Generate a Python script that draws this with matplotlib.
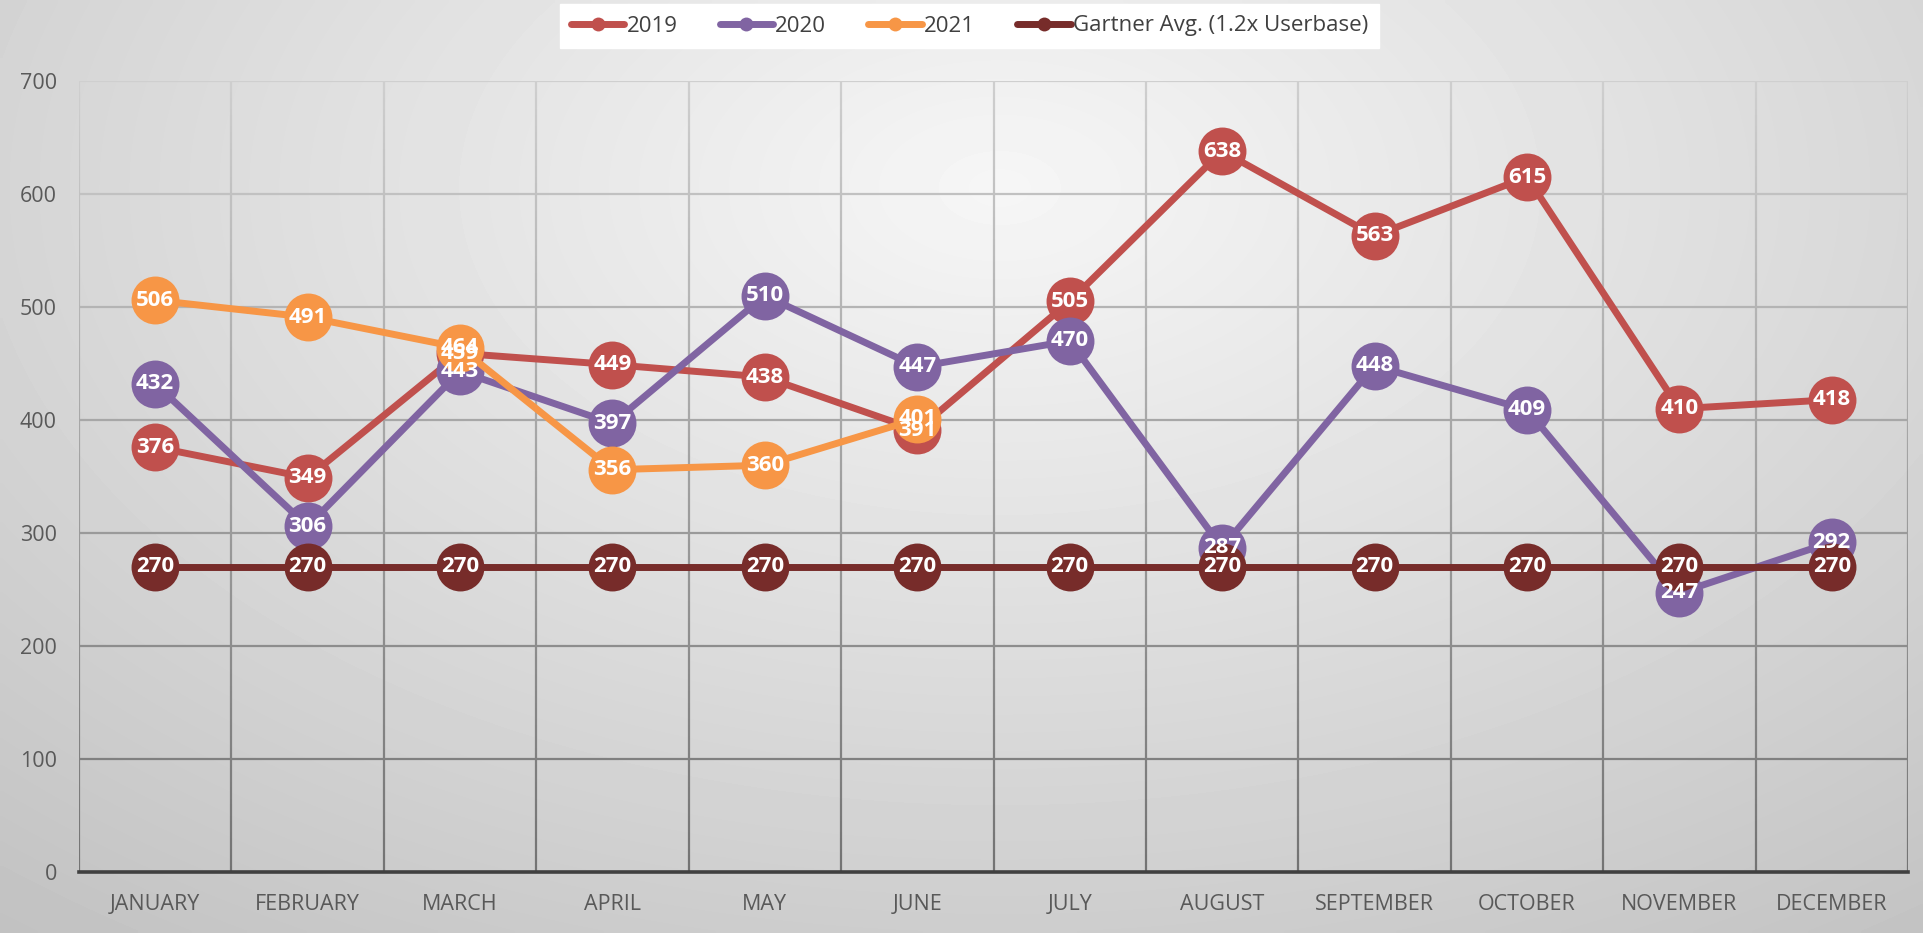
import numpy as np
import matplotlib
matplotlib.use("Agg")
import matplotlib.pyplot as plt
from matplotlib.collections import LineCollection
from matplotlib.lines import Line2D

months = ["JANUARY", "FEBRUARY", "MARCH", "APRIL", "MAY", "JUNE", "JULY",
          "AUGUST", "SEPTEMBER", "OCTOBER", "NOVEMBER", "DECEMBER"]
s2019 = [376, 349, 459, 449, 438, 391, 505, 638, 563, 615, 410, 418]
s2020 = [432, 306, 443, 397, 510, 447, 470, 287, 448, 409, 247, 292]
s2021 = [506, 491, 464, 356, 360, 401]
gartner = [270] * 12
series_names = ["2019", "2020", "2021", "Gartner Avg. (1.2x Userbase)"]
series_values = [s2019, s2020, s2021, gartner]
series_colors = ["#C0504D", "#8064A2", "#F79646", "#772C2A"]
yticks = [0, 100, 200, 300, 400, 500, 600, 700]

plt.rcParams['font.family'] = ['Open Sans', 'DejaVu Sans']

W, H, DPI = 1923, 933, 100
fig = plt.figure(figsize=(W / DPI, H / DPI), dpi=DPI)

# background radial gradient
bg = fig.add_axes([0, 0, 1, 1], zorder=-10)
gx, gy = np.meshgrid(np.linspace(0, 1, 400), np.linspace(0, 1, 200))
d = np.sqrt(((gx - 0.52) / 0.8) ** 2 + ((gy - 0.8) / 1.0) ** 2)
val = np.clip(0.965 - 0.2 * d, 0, 1)
bg.imshow(val, cmap="gray", vmin=0, vmax=1, origin="lower", aspect="auto",
          extent=[0, 1, 0, 1], interpolation="bilinear")
bg.axis("off")

ax = fig.add_axes([79 / W, 1 - 872 / H, (1908 - 79) / W, (872 - 81) / H])
ax.patch.set_alpha(0)
x = np.arange(len(months))
ax.set_xlim(-0.5, len(months) - 0.5)
ax.set_ylim(0, 700)


def gcol(v):
    c = 0.45 + 0.36 * (v / 700.0)
    return (c, c, c)

# vertical gridlines with gradient
segs, cols = [], []
yy = np.linspace(0, 700, 141)
for xb in np.arange(-0.5, len(months), 1.0):
    for i in range(len(yy) - 1):
        segs.append([(xb, yy[i]), (xb, yy[i + 1])])
        cols.append(gcol((yy[i] + yy[i + 1]) / 2))
ax.add_collection(LineCollection(segs, colors=cols, linewidths=1.6, zorder=0.5))
for v in yticks[1:]:
    ax.axhline(v, color=gcol(v), lw=1.6, zorder=0.6)

for i, (name, vals, col) in enumerate(zip(series_names, series_values, series_colors)):
    xs = x[:len(vals)]
    ax.plot(xs, vals, color=col, lw=5.0, marker="o", markersize=34.5,
            markeredgewidth=0, solid_capstyle="round", zorder=2 + i)
    for xi, v in zip(xs, vals):
        ax.text(xi, v, str(v), ha="center", va="center", color="white",
                fontsize=16, fontweight="bold", zorder=10)

ax.set_xticks(x)
ax.set_xticklabels(months)
ax.set_yticks(yticks)
ax.tick_params(axis="both", length=0, labelsize=15.5, labelcolor="#595959")
ax.tick_params(axis="x", pad=16)
ax.tick_params(axis="y", pad=16)
for s in ["top", "right", "left"]:
    ax.spines[s].set_visible(False)
ax.spines["bottom"].set_color("#404040")
ax.spines["bottom"].set_linewidth(2.6)
ax.spines["bottom"].set_zorder(1)

handles = [Line2D([0], [0], color=c, lw=5.0, marker="o", markersize=10,
                  markeredgewidth=0, solid_capstyle="round") for c in series_colors]
leg = fig.legend(handles, series_names, loc="center", bbox_to_anchor=(969.5 / W, 1 - 26 / H),
                 ncol=4, frameon=True, fancybox=False, framealpha=1,
                 facecolor="white", edgecolor="white", fontsize=16,
                 handlelength=2.4, handletextpad=0.1, columnspacing=1.9,
                 borderpad=0.5)
for t in leg.get_texts():
    t.set_color("#404040")

fig.savefig("out.png", dpi=DPI)
